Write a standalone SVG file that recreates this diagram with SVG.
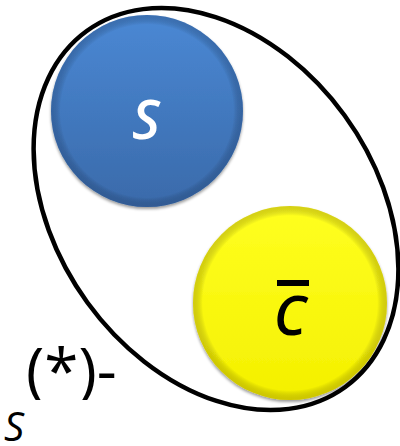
<svg xmlns="http://www.w3.org/2000/svg" width="400" height="446" viewBox="0 0 400 446">
<style>
.lbl{font-family:"Open Sans","Noto Sans",sans-serif;font-style:italic;font-weight:600;font-size:54px;text-anchor:middle}
.note{font-family:"Open Sans","Noto Sans",sans-serif;font-weight:500;fill:#000}
</style>
<defs>
<linearGradient id="gBlue" x1="0" y1="0" x2="0" y2="1">
<stop offset="0" stop-color="#4a88d4"/>
<stop offset="1" stop-color="#3a6aaa"/>
</linearGradient>
<radialGradient id="rimBlue" cx="0.5" cy="0.5" r="0.5">
<stop offset="0.9" stop-color="#000" stop-opacity="0"/>
<stop offset="1" stop-color="#1d3f70" stop-opacity="0.35"/>
</radialGradient>
<linearGradient id="gYel" x1="0" y1="0" x2="0" y2="1">
<stop offset="0" stop-color="#ffff20"/>
<stop offset="1" stop-color="#f4f000"/>
</linearGradient>
<radialGradient id="rimYel" cx="0.5" cy="0.5" r="0.5">
<stop offset="0.9" stop-color="#000" stop-opacity="0"/>
<stop offset="1" stop-color="#8a7a00" stop-opacity="0.35"/>
</radialGradient>
<filter id="sh" x="-10%" y="-10%" width="120%" height="125%">
<feGaussianBlur in="SourceAlpha" stdDeviation="1.5"/>
<feOffset dy="2" result="b"/>
<feComponentTransfer><feFuncA type="linear" slope="0.4"/></feComponentTransfer>
<feMerge><feMergeNode/><feMergeNode in="SourceGraphic"/></feMerge>
</filter>
<clipPath id="clipNote"><rect x="0" y="330" width="140" height="70"/></clipPath>
</defs>
<g id="connectors"></g>
<g id="set">
<ellipse cx="216" cy="209" rx="220" ry="159" transform="rotate(54 216 209)" fill="none" stroke="#000" stroke-width="4.5"/>
</g>
<g id="nodeS" filter="url(#sh)">
<circle cx="147" cy="111" r="96" fill="url(#gBlue)"/>
<circle cx="147" cy="111" r="96" fill="url(#rimBlue)"/>
<text class="lbl" x="146" y="139" fill="#fff">S</text>
</g>
<g id="nodeC" filter="url(#sh)">
<circle cx="290" cy="303" r="97" fill="url(#gYel)"/>
<circle cx="290" cy="303" r="97" fill="url(#rimYel)"/>
<text class="lbl" x="290" y="335" fill="#000">C</text>
<rect x="277" y="280" width="32" height="6" fill="#000"/>
</g>
<g id="label">
<text class="note" x="26" y="393" font-size="62" clip-path="url(#clipNote)">(*)-</text>
<text class="note" x="4" y="441" font-style="italic" font-weight="600" font-size="40">S</text>
</g>
</svg>
